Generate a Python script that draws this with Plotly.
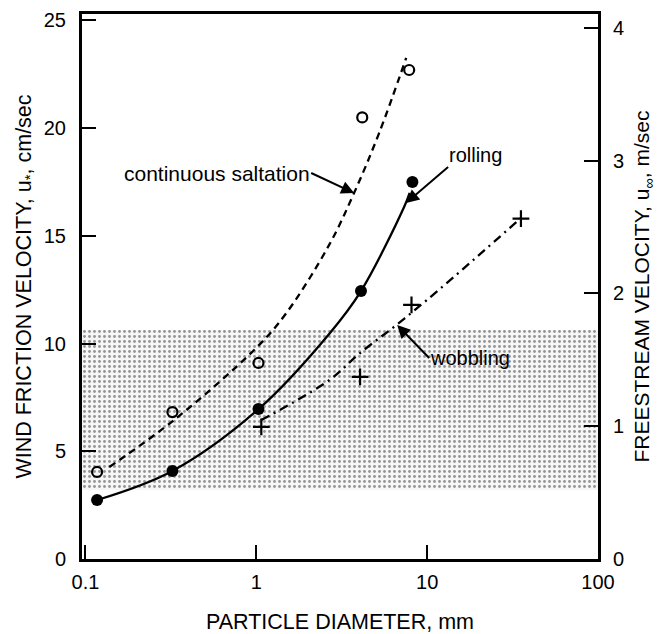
import plotly.graph_objects as go

# ---- data ----
# measured points
sal_x = [0.117, 0.323, 1.03, 4.17, 7.85]
sal_y = [4.04, 6.82, 9.10, 20.5, 22.7]
roll_x = [0.117, 0.323, 1.03, 4.1, 8.2]
roll_y = [2.74, 4.09, 6.96, 12.44, 17.5]
wob_x = [1.07, 4.05, 8.1, 35.4]
wob_y = [6.13, 8.45, 11.8, 15.8]

# fitted curves
sal_cx = [0.138, 0.33, 1.0, 1.5, 2.67, 3.74, 5.24, 7.54]
sal_cy = [4.27, 6.45, 9.8, 11.42, 14.58, 17.0, 19.78, 23.26]
roll_cx = [0.117, 0.323, 1.03, 2.67, 4.1, 7.33, 7.9]
roll_cy = [2.74, 4.09, 6.96, 10.45, 12.44, 16.34, 17.0]
wob_cx = [1.07, 2.67, 4.05, 6.6, 11.7, 35.4]
wob_cy = [6.45, 8.3, 9.56, 10.86, 12.49, 15.83]

# shaded band (cm/sec)
band_lo, band_hi = 3.2, 10.63

x_ticks = [0.1, 1, 10, 100]
x_ticktext = ["0.1", "1", "10", "100"]
y_ticks = [0, 5, 10, 15, 20, 25]
y2_ticks = [0, 1, 2, 3, 4]

FONT = "Liberation Sans, Arial, Helvetica, sans-serif"

fig = go.Figure()

# shaded region
fig.add_trace(go.Scatter(
    x=[0.09, 100, 100, 0.09, 0.09],
    y=[band_lo, band_lo, band_hi, band_hi, band_lo],
    mode="lines", line=dict(width=0), fill="toself",
    fillcolor="rgba(0,0,0,0)",
    fillpattern=dict(shape=".", size=5, solidity=0.26, fgcolor="#333333",
                     bgcolor="#f6f6f6"),
    hoverinfo="skip", showlegend=False))

# curves
fig.add_trace(go.Scatter(x=sal_cx, y=sal_cy, mode="lines",
                         line=dict(color="black", width=2.3, dash="7px,5px", shape="spline"),
                         showlegend=False))
fig.add_trace(go.Scatter(x=roll_cx, y=roll_cy, mode="lines",
                         line=dict(color="black", width=2.3, shape="spline"),
                         showlegend=False))
fig.add_trace(go.Scatter(x=wob_cx, y=wob_cy, mode="lines",
                         line=dict(color="black", width=2.3, dash="9px,5px,2px,5px", shape="spline"),
                         showlegend=False))

# points
fig.add_trace(go.Scatter(x=sal_x, y=sal_y, mode="markers",
                         marker=dict(symbol="circle-open", size=10, color="black",
                                     line=dict(width=2.2, color="black")),
                         showlegend=False))
fig.add_trace(go.Scatter(x=roll_x, y=roll_y, mode="markers",
                         marker=dict(symbol="circle", size=12, color="black"),
                         showlegend=False))
fig.add_trace(go.Scatter(x=wob_x, y=wob_y, mode="markers",
                         marker=dict(symbol="cross-thin", size=12, color="black",
                                     line=dict(width=2.2, color="black")),
                         showlegend=False))

# dummy trace for right axis
fig.add_trace(go.Scatter(x=[1], y=[0], yaxis="y2", mode="markers",
                         marker=dict(opacity=0), hoverinfo="skip", showlegend=False))

# labelled arrows (text sits at the arrow tail)
ann_font = dict(size=20, family=FONT, color="black")
fig.add_annotation(x=0.573, y=16.99, xref="x", yref="y", text="continuous saltation",
                   showarrow=True, ax=-43, ay=-20, xanchor="right", yanchor="middle",
                   arrowhead=2, arrowsize=1.3, arrowwidth=2, arrowcolor="black",
                   font=dict(size=21, family=FONT, color="black"), borderpad=0)
fig.add_annotation(x=0.877, y=16.53, xref="x", yref="y", text="rolling",
                   showarrow=True, ax=42, ay=-36, xanchor="left", yanchor="bottom",
                   arrowhead=2, arrowsize=1.3, arrowwidth=2, arrowcolor="black",
                   font=ann_font, borderpad=0)
fig.add_annotation(x=0.8246, y=10.86, xref="x", yref="y", text="wobbling",
                   showarrow=True, ax=32, ay=33, xanchor="left", yanchor="middle",
                   arrowhead=2, arrowsize=1.3, arrowwidth=2, arrowcolor="black",
                   font=ann_font, borderpad=0)

fig.update_layout(
    width=659, height=634,
    margin=dict(l=82, r=61, t=14, b=75, autoexpand=False),
    paper_bgcolor="white", plot_bgcolor="white",
    font=dict(family=FONT, color="black", size=20),
    xaxis=dict(type="log", range=[-1.02, 2], tickvals=x_ticks, ticktext=x_ticktext,
               ticks="inside", ticklen=14, tickwidth=2, tickcolor="black",
               showline=True, linewidth=3, linecolor="black", mirror=True,
               showgrid=False, zeroline=False, ticklabelstandoff=3, automargin=False,
               tickfont=dict(size=20),
               title=dict(text="PARTICLE DIAMETER, mm", font=dict(size=21.5), standoff=22)),
    yaxis=dict(range=[0, 25.3], tickvals=y_ticks, ticks="inside", ticklen=14,
               tickwidth=2, tickcolor="black",
               showline=True, linewidth=3, linecolor="black",
               showgrid=False, zeroline=False, ticklabelstandoff=9, automargin=False,
               tickfont=dict(size=20),
               title=dict(text="WIND FRICTION VELOCITY, u<sub>*</sub>, cm/sec",
                          font=dict(size=21.5), standoff=7)),
    yaxis2=dict(range=[0, 4.105], tickvals=y2_ticks, overlaying="y", side="right",
                ticks="inside", ticklen=14, tickwidth=2, tickcolor="black",
                showline=True, linewidth=3, linecolor="black",
                showgrid=False, zeroline=False, ticklabelstandoff=8, automargin=False,
                tickfont=dict(size=20),
                title=dict(text="FREESTREAM VELOCITY, u<sub>∞</sub>, m/sec",
                           font=dict(size=21), standoff=12)),
)

fig.write_html("out.html")
